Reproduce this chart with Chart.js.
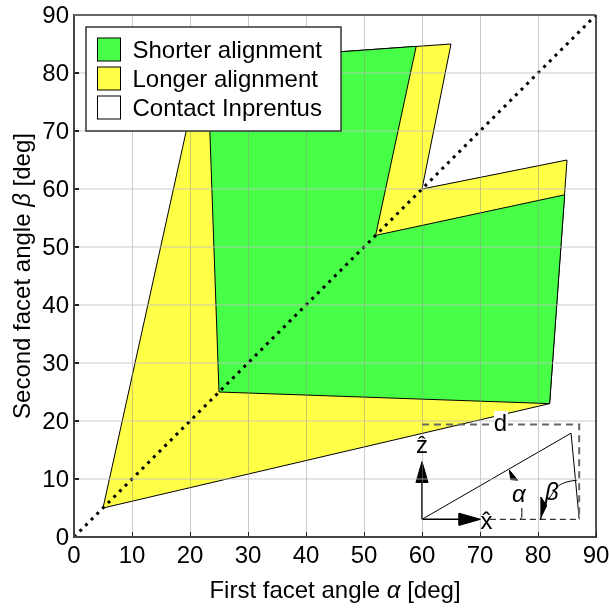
<!DOCTYPE html>
<html>
<head>
<meta charset="utf-8">
<style>
  html, body { margin: 0; padding: 0; background: #fff; }
  #wrap { width: 609px; height: 609px; }
</style>
<script src="https://cdn.jsdelivr.net/npm/chart.js@4/dist/chart.umd.min.js"></script>
</head>
<body>
<div id="wrap"><canvas id="chart" width="609" height="609"></canvas></div>
<script>
const tickValues = [0, 10, 20, 30, 40, 50, 60, 70, 80, 90]
const legendLabels = ["Shorter alignment", "Longer alignment", "Contact Inprentus"]

// regions, in facet angle degrees
const longerRegion = [[5, 5], [22, 82], [65, 85], [60, 60], [85, 65], [82, 23], [5, 5]]
const shorterRegion = [[25, 25], [23, 82], [59, 84.6], [52, 52], [84.6, 59], [82, 23], [25, 25]]
const diagonal = [[0, 0], [90, 90]]

// inset sketch, same coordinates as the plot
const insetBox = [[60, 19.4], [87.1, 19.4], [87.1, 3.05]]
const insetFacets = [[60, 3.05], [85.7, 17.9], [87.1, 3.05]]
const insetBase = [[71.7, 3.05], [87.1, 3.05]]
const zStem = [[60, 3.05], [60, 10]]
const zHead = [[60, 13], [61.05, 9.4], [58.95, 9.4], [60, 13]]
const xStem = [[60, 3.05], [67, 3.05]]
const xHead = [[70.1, 3.05], [66.4, 4.1], [66.4, 2], [70.1, 3.05]]
const alphaArc = [[77.2, 5], [77.2, 3.4], [76.9, 3.05]]
const alphaHead = [[75.05, 11.55], [76.5, 9.8], [75.3, 9.9], [75.05, 11.55]]
const betaArc = [[86.7, 9.8], [85, 9.5], [83.5, 8.8], [81.8, 6.5]]
const betaHead = [[80.35, 3.05], [80.5, 6.9], [81.5, 5.4], [80.35, 3.05]]

const green = "#48ff48"
const yellow = "#ffff48"
const fontName = "'Liberation Sans', Arial, sans-serif"

const toPoints = (pairs) => pairs.map(([x, y]) => ({ x, y }))

function region(pairs, color, order) {
  return {
    data: toPoints(pairs),
    showLine: true,
    fill: "shape",
    backgroundColor: color,
    borderColor: "#000",
    borderWidth: 1,
    pointRadius: 0,
    tension: 0,
    order
  }
}

function stroke(pairs, color, width, dash, tension) {
  return {
    data: toPoints(pairs),
    showLine: true,
    fill: false,
    borderColor: color,
    borderWidth: width,
    borderDash: dash || [],
    pointRadius: 0,
    tension: tension || 0,
    order: 1
  }
}

// draws text pieces one after the other, some of them italic
function drawPieces(ctx, pieces, size, x, y) {
  const fonts = pieces.map((p) => `${p[1] ? "italic " : ""}${size}px ${fontName}`)
  let width = 0
  pieces.forEach((p, i) => {
    ctx.font = fonts[i]
    width += ctx.measureText(p[0]).width
  })
  let left = x - width / 2
  ctx.textAlign = "left"
  pieces.forEach((p, i) => {
    ctx.font = fonts[i]
    ctx.fillText(p[0], left, y)
    left += ctx.measureText(p[0]).width
  })
}

const extras = {
  id: "extras",
  afterDraw(chart) {
    const { ctx, chartArea: a, scales } = chart
    const px = (v) => scales.x.getPixelForValue(v)
    const py = (v) => scales.y.getPixelForValue(v)
    ctx.save()

    // frame
    ctx.strokeStyle = "#666"
    ctx.lineWidth = 2
    ctx.beginPath()
    ctx.moveTo(a.left, a.top)
    ctx.lineTo(a.right, a.top)
    ctx.stroke()
    ctx.strokeStyle = "#222"
    ctx.lineWidth = 1.5
    ctx.beginPath()
    ctx.moveTo(a.right, a.top)
    ctx.lineTo(a.right, a.bottom)
    ctx.stroke()

    // inset labels
    ctx.fillStyle = "#fff"
    ctx.fillRect(494, 411, 14, 24)
    ctx.fillStyle = "#000"
    ctx.textBaseline = "middle"
    ctx.textAlign = "center"
    ctx.font = `24px ${fontName}`
    ctx.fillText("d", px(73.5), py(19.4))
    ctx.fillText("ẑ", px(60), py(15.7))
    ctx.fillText("x̂", px(71.1), py(2.5))
    ctx.font = `italic 24px ${fontName}`
    ctx.fillText("α", px(76.7), py(7.2))
    ctx.fillText("β", px(82.4), py(7.5))

    // legend
    ctx.fillStyle = "#fff"
    ctx.fillRect(86, 27, 255, 104)
    ctx.strokeStyle = "#333"
    ctx.lineWidth = 1.5
    ctx.strokeRect(86, 27, 255, 104)
    const swatches = [green, yellow, "#fff"]
    legendLabels.forEach((label, i) => {
      const top = 38 + i * 29
      ctx.fillStyle = swatches[i]
      ctx.strokeStyle = "#000"
      ctx.lineWidth = 1
      ctx.fillRect(97.5, top, 23, 23)
      ctx.strokeRect(97.5, top, 23, 23)
      ctx.fillStyle = "#000"
      ctx.font = `24px ${fontName}`
      ctx.textAlign = "left"
      ctx.textBaseline = "alphabetic"
      ctx.fillText(label, 132.5, top + 20)
    })

    // axis titles
    ctx.fillStyle = "#000"
    ctx.textBaseline = "alphabetic"
    drawPieces(ctx, [["First facet angle ", false], ["α", true], [" [deg]", false]], 24, 335, 598)
    ctx.translate(30, 276)
    ctx.rotate(-Math.PI / 2)
    drawPieces(ctx, [["Second facet angle ", false], ["β", true], [" [deg]", false]], 24, 0, 0)
    ctx.restore()
  }
}

const axis = (horizontal) => ({
  type: "linear",
  min: 0,
  max: 90,
  afterBuildTicks(scale) {
    scale.ticks = tickValues.map((value) => ({ value }))
  },
  afterFit(scale) {
    if (horizontal) scale.height = 72
    else scale.width = 74
    scale.paddingLeft = scale.paddingRight = scale.paddingTop = scale.paddingBottom = 0
  },
  grid: {
    z: 1,
    color: horizontal ? "rgba(140,140,140,0.45)" : "rgba(190,190,190,0.4)",
    lineWidth: horizontal ? 1 : 2,
    tickColor: "#222",
    tickLength: -5
  },
  border: { display: true, color: "#444", width: 2, z: 2 },
  ticks: {
    color: "#000",
    font: { family: fontName, size: 24 },
    padding: horizontal ? 10 : 10,
    labelOffset: horizontal ? 0 : 1,
    maxRotation: 0,
    autoSkip: false
  }
})

new Chart(document.getElementById("chart"), {
  type: "scatter",
  data: {
    datasets: [
      region(longerRegion, yellow, 3),
      region(shorterRegion, green, 2),
      stroke(diagonal, "#000", 3, [3, 5]),
      stroke(insetBox, "#666", 2, [7, 5]),
      stroke(insetFacets, "#000", 1),
      stroke(insetBase, "#000", 1, [6, 4]),
      stroke(zStem, "#000", 1.5),
      stroke(xStem, "#000", 1.5),
      stroke(alphaArc, "#000", 1, [], 0.3),
      stroke(betaArc, "#000", 1, [], 0.3),
      region(zHead, "#000", 0),
      region(xHead, "#000", 0),
      region(alphaHead, "#000", 0),
      region(betaHead, "#000", 0)
    ]
  },
  options: {
    responsive: false,
    animation: false,
    layout: { padding: { top: 15, right: 13, left: 0, bottom: 0 } },
    plugins: { legend: { display: false }, tooltip: { enabled: false } },
    scales: { x: axis(true), y: axis(false) }
  },
  plugins: [extras]
})
</script>
</body>
</html>
